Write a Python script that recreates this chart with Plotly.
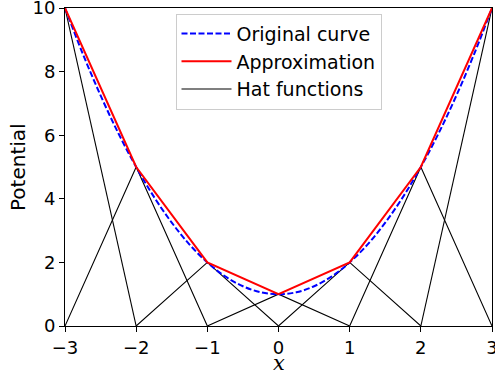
import plotly.graph_objs as go

# Original curve
curve_x = [-3.0, -2.75, -2.5, -2.25, -2.0, -1.75, -1.5, -1.25, -1.0, -0.75, -0.5, -0.25, 0.0,
           0.25, 0.5, 0.75, 1.0, 1.25, 1.5, 1.75, 2.0, 2.25, 2.5, 2.75, 3.0]
curve_y = [10.0, 8.56, 7.25, 6.06, 5.0, 4.06, 3.25, 2.56, 2.0, 1.56, 1.25, 1.06, 1.0,
           1.06, 1.25, 1.56, 2.0, 2.56, 3.25, 4.06, 5.0, 6.06, 7.25, 8.56, 10.0]

# Nodes of the piecewise linear approximation
nodes_x = [-3, -2, -1, 0, 1, 2, 3]
nodes_v = [10, 5, 2, 1, 2, 5, 10]

font = "DejaVu Sans"

data = []

# Hat functions, one per node, scaled by the node value
for i in range(len(nodes_x)):
    hx, hy = [], []
    if i > 0:
        hx.append(nodes_x[i - 1])
        hy.append(0)
    hx.append(nodes_x[i])
    hy.append(nodes_v[i])
    if i < len(nodes_x) - 1:
        hx.append(nodes_x[i + 1])
        hy.append(0)
    data.append(go.Scatter(
        x=hx, y=hy, mode="lines",
        line=dict(color="black", width=1.1),
        name="Hat functions",
        showlegend=(i == 0),
        legendrank=3,
    ))

data.append(go.Scatter(
    x=curve_x, y=curve_y, mode="lines",
    line=dict(color="blue", width=2, dash="6px,2.5px", shape="spline"),
    name="Original curve",
    legendrank=1,
))

data.append(go.Scatter(
    x=nodes_x, y=nodes_v, mode="lines",
    line=dict(color="red", width=2),
    name="Approximation",
    legendrank=2,
))

layout = go.Layout(
    width=495,
    height=381,
    margin=dict(l=65, r=3, t=8, b=55),
    paper_bgcolor="white",
    plot_bgcolor="white",
    font=dict(family=font, size=18, color="black"),
    xaxis=dict(
        range=[-3, 3],
        tickvals=[-3, -2, -1, 0, 1, 2, 3],
        ticktext=["\u22123", "\u22122", "\u22121", "0", "1", "2", "3"],
        ticks="outside", ticklen=5, tickcolor="black",
        ticklabeloverflow="allow",
        automargin=False,
        showline=True, linecolor="black", linewidth=1, mirror=True,
        showgrid=False, zeroline=False,
    ),
    yaxis=dict(
        range=[0, 10],
        tickvals=[0, 2, 4, 6, 8, 10],
        ticks="outside", ticklen=5, tickcolor="black",
        ticklabeloverflow="allow",
        automargin=False,
        showline=True, linecolor="black", linewidth=1, mirror=True,
        showgrid=False, zeroline=False,
    ),
    # axis titles placed as annotations so they sit where the reference has them
    annotations=[
        dict(text="<i>x</i>", xref="paper", yref="paper", x=0.5, y=-0.117,
             xanchor="center", yanchor="middle", showarrow=False, borderpad=0,
             font=dict(family="DejaVu Serif", size=21)),
        dict(text="Potential", xref="paper", yref="paper", x=-0.11, y=0.5,
             xanchor="center", yanchor="middle", textangle=-90, showarrow=False,
             font=dict(size=20)),
    ],
    legend=dict(
        x=0.5, xanchor="center",
        y=0.982, yanchor="top",
        bgcolor="rgba(255,255,255,0.8)",
        bordercolor="#cccccc", borderwidth=1,
        font=dict(size=19),
        itemwidth=50,
        traceorder="normal",
    ),
    showlegend=True,
)

fig = go.Figure(data=data, layout=layout)
# drop the default page margin so the figure sits at the window's corner
fig.write_html("out.html", config={"displayModeBar": False},
               post_script="document.body.style.margin='0';")
